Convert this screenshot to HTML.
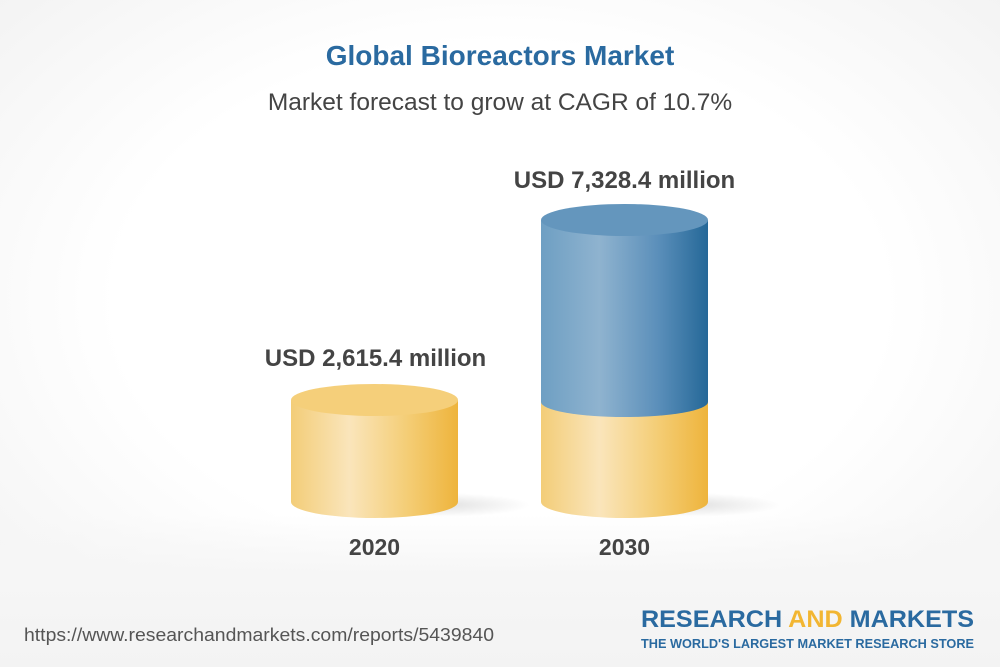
<!DOCTYPE html>
<html><head><style>
body{margin:0;width:1000px;height:667px;overflow:hidden;background:#fff;font-family:"Liberation Sans",Arial,sans-serif;}
.wrap{position:relative;width:1000px;height:667px;background:radial-gradient(ellipse 70% 70% at 50% 45%,#ffffff 55%,#f2f2f2 100%);}
.t{position:absolute;left:0;width:1000px;text-align:center;}
</style></head><body><div class="wrap">
<div style="position:absolute;left:0;top:515px;width:1000px;height:152px;background:linear-gradient(rgba(255,255,255,0),#f6f6f6 40%,#f3f3f3);"></div>
<div class="t" style="top:40px;font-size:28px;font-weight:bold;color:#2a6aa0;">Global Bioreactors Market</div>
<div class="t" style="top:89px;font-size:24.5px;color:#444;">Market forecast to grow at CAGR of 10.7%</div>
<svg width="1000" height="667" style="position:absolute;left:0;top:0">
<defs>
<linearGradient id="y" x1="0" x2="1"><stop offset="0" stop-color="#f3cd78"/><stop offset="0.35" stop-color="#fae5bb"/><stop offset="0.7" stop-color="#f4cd75"/><stop offset="1" stop-color="#eeb43c"/></linearGradient>
<linearGradient id="b" x1="0" x2="1"><stop offset="0" stop-color="#6e9fc3"/><stop offset="0.35" stop-color="#8fb3cf"/><stop offset="0.7" stop-color="#5b8fba"/><stop offset="1" stop-color="#256898"/></linearGradient>
<radialGradient id="sh"><stop offset="0" stop-color="#000" stop-opacity="0.12"/><stop offset="1" stop-color="#000" stop-opacity="0"/></radialGradient>
</defs>
<ellipse cx="440" cy="505" rx="90" ry="12" fill="url(#sh)"/>
<ellipse cx="690" cy="505" rx="90" ry="12" fill="url(#sh)"/>
<path d="M291 400 L291 502 A83.5 16 0 0 0 458 502 L458 400 Z" fill="url(#y)"/>
<ellipse cx="374.5" cy="400" rx="83.5" ry="16" fill="#f5cf7a"/>
<path d="M541 402 L541 502 A83.5 16 0 0 0 708 502 L708 402 Z" fill="url(#y)"/>
<path d="M541 220 L541 402 A83.5 15 0 0 0 708 402 L708 220 Z" fill="url(#b)"/>
<ellipse cx="624.5" cy="220" rx="83.5" ry="16" fill="#6496bd"/>
<text x="375.5" y="366" text-anchor="middle" font-size="24" font-weight="bold" fill="#444" font-family="Liberation Sans,Arial,sans-serif">USD 2,615.4 million</text>
<text x="624.5" y="188" text-anchor="middle" font-size="24" font-weight="bold" fill="#444" font-family="Liberation Sans,Arial,sans-serif">USD 7,328.4 million</text>
<text x="374.5" y="555" text-anchor="middle" font-size="23" font-weight="bold" fill="#444" font-family="Liberation Sans,Arial,sans-serif">2020</text>
<text x="624.5" y="555" text-anchor="middle" font-size="23" font-weight="bold" fill="#444" font-family="Liberation Sans,Arial,sans-serif">2030</text>
<text x="24" y="641" font-size="18" fill="#555" font-family="Liberation Sans,Arial,sans-serif" textLength="470" lengthAdjust="spacingAndGlyphs">https://www.researchandmarkets.com/reports/5439840</text>
<text x="641" y="627" font-size="24" font-weight="bold" fill="#2a6aa0" font-family="Liberation Sans,Arial,sans-serif" textLength="333" lengthAdjust="spacingAndGlyphs">RESEARCH <tspan fill="#f2b632">AND</tspan> MARKETS</text>
<text x="641" y="648" font-size="13" font-weight="bold" fill="#2a6aa0" font-family="Liberation Sans,Arial,sans-serif" textLength="333" lengthAdjust="spacingAndGlyphs">THE WORLD'S LARGEST MARKET RESEARCH STORE</text>
</svg>
</div></body></html>
